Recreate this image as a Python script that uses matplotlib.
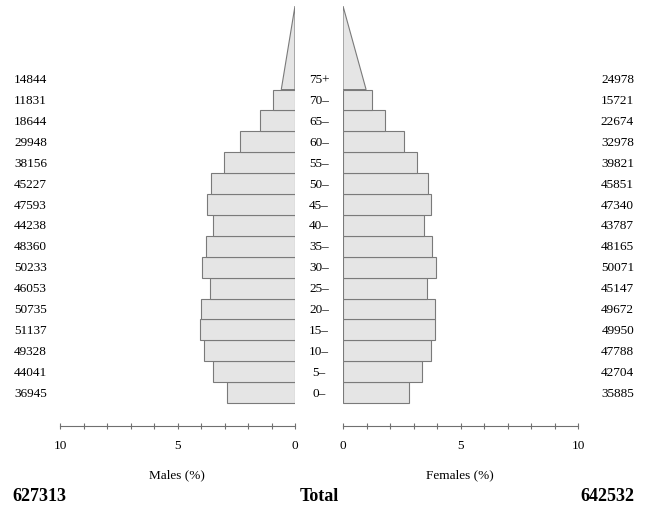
import matplotlib
matplotlib.use("Agg")
import matplotlib.pyplot as plt
from matplotlib.transforms import blended_transform_factory

plt.rcParams['font.family'] = ['Liberation Serif', 'DejaVu Serif']

ages = ["0–", "5–", "10–", "15–", "20–", "25–", "30–", "35–", "40–",
        "45–", "50–", "55–", "60–", "65–", "70–", "75+"]
males = [36945, 44041, 49328, 51137, 50735, 46053, 50233, 48360, 44238,
         47593, 45227, 38156, 29948, 18644, 11831, 14844]
females = [35885, 42704, 47788, 49950, 49672, 45147, 50071, 48165, 43787,
           47340, 45851, 39821, 32978, 22674, 15721, 24978]

total = sum(males) + sum(females)
male_pct = [m / total * 100 for m in males]
female_pct = [f / total * 100 for f in females]

W, H = 648, 506
fig = plt.figure(figsize=(W / 100, H / 100), dpi=100)

fill = "#e5e5e5"
edge = "#7a7a7a"
ybot, ytop = -1.1, 19.0   # in age-bin units, last group drawn as triangle over 4 bins


def setup(ax, left_side):
    ax.set_ylim(ybot, ytop)
    if left_side:
        ax.set_xlim(10, 0)
    else:
        ax.set_xlim(0, 10)
    for s in ["top", "left", "right"]:
        ax.spines[s].set_visible(False)
    ax.spines["bottom"].set_color("#707070")
    ax.spines["bottom"].set_linewidth(0.8)
    ax.set_yticks([])
    ax.set_xticks(range(11))
    ax.set_xticklabels([str(i) if i % 5 == 0 else "" for i in range(11)])
    ax.tick_params(axis="x", direction="inout", length=5, width=0.8,
                   color="#707070", labelsize=9.5, pad=7)
    ax.patch.set_visible(False)


axL = fig.add_axes([60 / W, (H - 427) / H, 235 / W, 420 / H])
axR = fig.add_axes([343 / W, (H - 427) / H, 235 / W, 420 / H])
setup(axL, True)
setup(axR, False)

n = len(ages) - 1
for ax, pct in [(axL, male_pct), (axR, female_pct)]:
    ax.barh([i + 0.5 for i in range(n)], pct[:n], height=1, left=0,
            color=fill, edgecolor=edge, linewidth=0.8)
    # open-ended oldest group as a triangle of the same area
    b = pct[n] / 2
    ax.fill([0, b, 0], [n, n, n + 4], facecolor=fill, edgecolor=edge, linewidth=0.8)

tr = blended_transform_factory(fig.transFigure, axL.transData)
for i, a in enumerate(ages):
    y = i + 0.5
    fig.text(319 / W, y, a, transform=tr, ha="center", va="center", fontsize=9.5)
    fig.text(14 / W, y, str(males[i]), transform=tr, ha="left", va="center", fontsize=9.5)
    fig.text(634 / W, y, str(females[i]), transform=tr, ha="right", va="center", fontsize=9.5)

fig.text(177 / W, 1 - 475 / H, "Males (%)", ha="center", va="center", fontsize=9.5)
fig.text(460 / W, 1 - 475 / H, "Females (%)", ha="center", va="center", fontsize=9.5)

fig.text(12 / W, 1 - 497 / H, str(sum(males)), ha="left", va="center",
         fontsize=13, fontweight="bold")
fig.text(319 / W, 1 - 497 / H, "Total", ha="center", va="center",
         fontsize=13, fontweight="bold")
fig.text(634 / W, 1 - 497 / H, str(sum(females)), ha="right", va="center",
         fontsize=13, fontweight="bold")

fig.savefig("out.png", dpi=100)
